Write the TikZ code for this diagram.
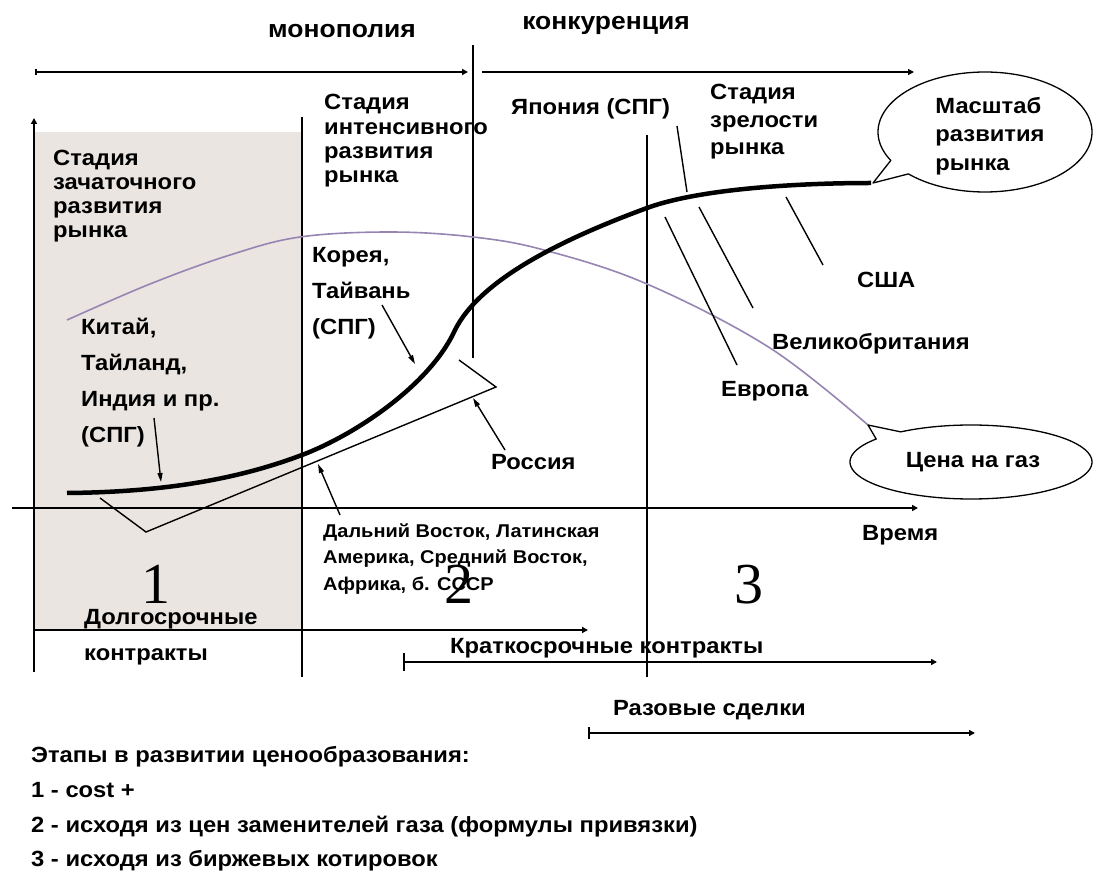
\documentclass[tikz,border=0pt]{standalone}
\usepackage{fontspec}
\setmainfont{Liberation Sans}[FakeStretch=1.08]
\newfontfamily\numfont{Liberation Serif}
\usetikzlibrary{arrows.meta,shapes.geometric}
\definecolor{shadefill}{RGB}{234,229,225}
\definecolor{pricecol}{RGB}{150,133,178}
\newcommand\mlines[3]{\fontsize{#1}{#2}\selectfont\bfseries\begin{tabular}[t]{@{}l@{}}#3\end{tabular}}
\begin{document}
\begin{tikzpicture}[x=1pt,y=-1pt,
  lbl/.style={inner sep=0pt, anchor=base west, font=\fontsize{22}{24}\selectfont\bfseries},
  title/.style={inner sep=0pt, anchor=base, font=\fontsize{24.5}{26}\selectfont\bfseries},
  small/.style={inner sep=0pt, anchor=base west, font=\fontsize{18.5}{26}\selectfont\bfseries},
  bignum/.style={inner sep=0pt, anchor=base west, font=\fontsize{58}{60}\selectfont\numfont},
  axis/.style={line width=1.8pt},
  divider/.style={line width=1.8pt},
  span/.style={line width=2.2pt, -{Triangle[length=6pt,width=6pt]}},
  pointer/.style={line width=1.4pt},
  ptarrow/.style={line width=1.4pt, -{Triangle[length=9pt,width=5pt]}},
  bubble/.style={draw, line width=1.3pt, line join=round},
  bubbletext/.style={inner sep=0pt, font=\fontsize{22}{28.5}\selectfont\bfseries, align=left}]
\useasboundingbox (0,0) rectangle (1093,874);
% shaded first stage
\fill[shadefill] (35,132) rectangle (301,630);
% top brackets
\node[title] (mono) at (342,38) {монополия};
\node[title] (konk) at (606,30) {конкуренция};
\coordinate (m1) at (35,72); \coordinate (m2) at (468,72);
\coordinate (k1) at (482,72); \coordinate (k2) at (914,72);
\draw[span, {Bar[width=6pt]}-{Triangle[length=6pt,width=6pt]}] (m1) -- (m2);
\draw[span] (k1) -- (k2);
% axes
\coordinate (yb) at (34,672); \coordinate (yt) at (34,118);
\coordinate (xl) at (12,508); \coordinate (xr) at (918,508);
\draw[axis, -{Triangle[length=6pt,width=6pt]}] (yb) -- (yt);
\draw[axis, -{Triangle[length=6pt,width=6pt]}] (xl) -- (xr);
% dividers
\coordinate (d1t) at (302,117); \coordinate (d1b) at (302,677);
\coordinate (d2t) at (473,45);  \coordinate (d2b) at (473,358);
\coordinate (d3t) at (647,135); \coordinate (d3b) at (647,677);
\draw[divider] (d1t) -- (d1b);
\draw[divider] (d2t) -- (d2b);
\draw[divider] (d3t) -- (d3b);
% price curve
\draw[pricecol, line width=1.6pt] plot[smooth, tension=0.6] coordinates
  {(67,320) (150,284) (230,255) (300,237) (390,232) (473,237) (544,250) (647,284) (770,348) (868,425)};
% market scale curve
\draw[line width=4.5pt, line join=round, line cap=butt]
  (67,493) .. controls (180,492) and (250,474.5) .. (302,455)
  .. controls (355,435) and (430,385) .. (455,330)
  .. controls (480,280) and (560,240) .. (647,208)
  .. controls (700,188.5) and (800,183) .. (871,183);
% wedge (Russia / Far East)
\coordinate (w1) at (100,498); \coordinate (w2) at (146,532);
\coordinate (w3) at (496,387); \coordinate (w4) at (459,360);
\draw[pointer] (w1) -- (w2) -- (w3) -- (w4);
% stage labels
\node[lbl] (st1) at (53,166) {\mlines{22}{24}{Стадия\\зачаточного\\развития\\рынка}};
\node[lbl] (st2) at (324,110) {\mlines{22}{24.3}{Стадия\\интенсивного\\развития\\рынка}};
\node[lbl] (st3) at (710,100) {\mlines{22}{27.5}{Стадия\\зрелости\\рынка}};
\node[lbl] (japan) at (511,115) {Япония (СПГ)};
\node[lbl] (china) at (81,335) {\mlines{22}{35.7}{Китай,\\Тайланд,\\Индия и пр.\\(СПГ)}};
\node[lbl] (korea) at (312,263) {\mlines{22}{36}{Корея,\\Тайвань\\(СПГ)}};
\node[lbl] (russia) at (491,470) {Россия};
\node[lbl] (usa) at (857,288) {США};
\node[lbl] (uk) at (772,350) {Великобритания};
\node[lbl] (europe) at (721,397) {Европа};
\node[lbl] (time) at (862,540) {Время};
\node[small] (fareast) at (323,537) {\mlines{18.5}{26.5}{Дальний Восток, Латинская\\Америка, Средний Восток,\\Африка, б. СССР}};
% callout: market scale
\coordinate (tipA) at (873,183);
\draw[bubble] (tipA) -- plot[domain=151.7:495.7, samples=140] ({985+107*cos(\x)},{132+60*sin(\x)}) -- cycle;
\node[bubbletext] (scale) at (990,136) {Масштаб\\развития\\рынка};
% callout: gas price
\coordinate (tipB) at (868,425);
\draw[bubble] (tipB) -- plot[domain=234.5:578.4, samples=140] ({971+121*cos(\x)},{462+37*sin(\x)}) -- cycle;
\node[bubbletext] (price) at (973,462) {Цена на газ};
% pointers
\coordinate (pc1) at (154,418); \coordinate (pc2) at (161,482);
\draw[ptarrow] (pc1) -- (pc2);
\coordinate (pk1) at (382,305); \coordinate (pk2) at (415,364);
\draw[ptarrow] (pk1) -- (pk2);
\coordinate (pr1) at (505,450); \coordinate (pr2) at (473,398);
\draw[ptarrow] (pr1) -- (pr2);
\coordinate (pf1) at (340,515); \coordinate (pf2) at (318,464);
\draw[ptarrow] (pf1) -- (pf2);
\coordinate (pj1) at (677,126); \coordinate (pj2) at (687,192);
\draw[pointer] (pj1) -- (pj2);
\coordinate (pe1) at (665,217); \coordinate (pe2) at (737,365);
\draw[pointer] (pe1) -- (pe2);
\coordinate (pu1) at (699,207); \coordinate (pu2) at (753,308);
\draw[pointer] (pu1) -- (pu2);
\coordinate (ps1) at (786,197); \coordinate (ps2) at (823,265);
\draw[pointer] (ps1) -- (ps2);
% stage numbers
\node[bignum] (n1) at (141,603) {1};
\node[bignum] (n2) at (444,603) {2};
\node[bignum] (n3) at (734,603) {3};
% contracts
\node[lbl] (long1) at (84,624) {Долгосрочные};
\node[lbl] (long2) at (84,660) {контракты};
\coordinate (l1) at (35,630); \coordinate (l2) at (588,630);
\draw[span] (l1) -- (l2);
\node[lbl] (short) at (450,653) {Краткосрочные контракты};
\coordinate (s1) at (403,662); \coordinate (s2) at (937,662);
\draw[span, {Bar[width=18pt]}-{Triangle[length=6pt,width=6pt]}] (s1) -- (s2);
\node[lbl] (spot) at (613,715) {Разовые сделки};
\coordinate (o1) at (588,733); \coordinate (o2) at (975,733);
\draw[span, {Bar[width=12pt]}-{Triangle[length=6pt,width=6pt]}] (o1) -- (o2);
% legend
\node[lbl] (leg0) at (31,762) {Этапы в развитии ценообразования:};
\node[lbl] (leg1) at (31,797) {1 - cost +};
\node[lbl] (leg2) at (31,832) {2 - исходя из цен заменителей газа (формулы привязки)};
\node[lbl] (leg3) at (31,866) {3 - исходя из биржевых котировок};
\end{tikzpicture}
\end{document}
